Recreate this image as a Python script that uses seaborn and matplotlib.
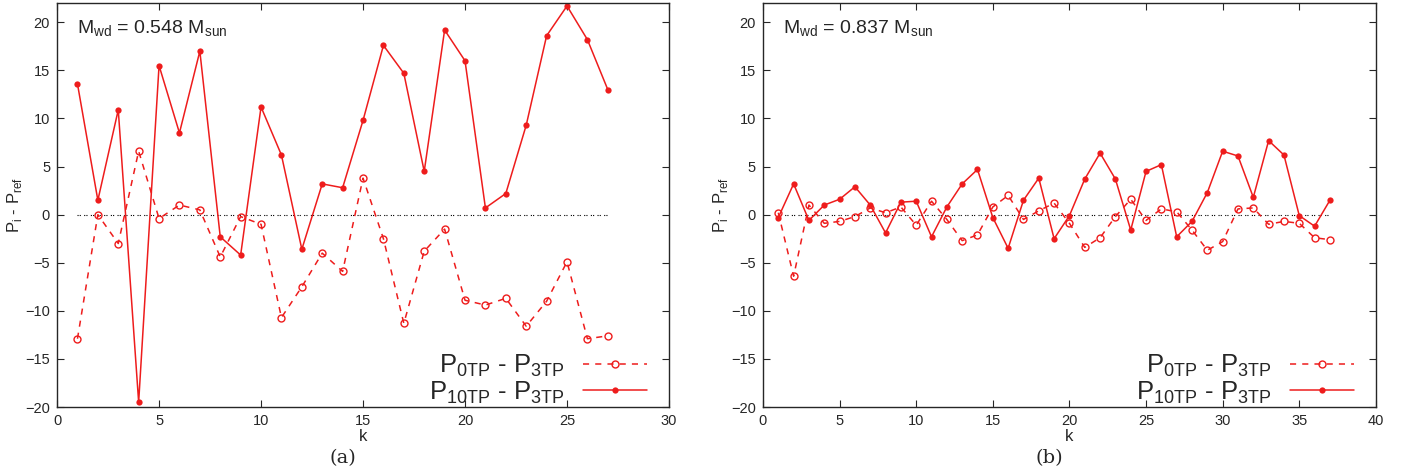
import numpy as np
import pandas as pd
import matplotlib
matplotlib.use("Agg")
import matplotlib.pyplot as plt
import seaborn as sns

# panel (a): M_wd = 0.548
k_a = list(range(1, 28))
p0_a = [-12.9, 0.0, -3.0, 6.6, -0.4, 1.0, 0.5, -4.4, -0.2, -1.0, -10.7, -7.5, -4.0, -5.9,
        3.8, -2.5, -11.3, -3.8, -1.5, -8.9, -9.4, -8.7, -11.6, -9.0, -4.9, -12.9, -12.6]
p10_a = [13.6, 1.5, 10.9, -19.5, 15.5, 8.5, 17.0, -2.3, -4.2, 11.2, 6.2, -3.6, 3.2, 2.8,
         9.8, 17.6, 14.7, 4.5, 19.2, 16.0, 0.7, 2.2, 9.3, 18.6, 21.7, 18.2, 13.0]

# panel (b): M_wd = 0.837
k_b = list(range(1, 38))
p0_b = [0.2, -6.4, 1.0, -0.9, -0.7, -0.2, 0.7, 0.2, 0.8, -1.1, 1.4, -0.5, -2.7, -2.1,
        0.8, 2.0, -0.5, 0.4, 1.2, -0.9, -3.4, -2.4, -0.2, 1.6, -0.6, 0.6, 0.3, -1.6,
        -3.7, -2.8, 0.6, 0.7, -1.0, -0.7, -0.9, -2.4, -2.6]
p10_b = [-0.3, 3.2, -0.6, 1.0, 1.6, 2.9, 1.0, -1.9, 1.3, 1.4, -2.3, 0.8, 3.2, 4.7,
         -0.3, -3.5, 1.5, 3.8, -2.5, -0.1, 3.7, 6.4, 3.7, -1.6, 4.5, 5.2, -2.3, -0.7,
         2.3, 6.6, 6.1, 1.8, 7.7, 6.2, -0.1, -1.2, 1.5]

panels = [
    ("(a)", "0.548", k_a, p0_a, p10_a, 30),
    ("(b)", "0.837", k_b, p0_b, p10_b, 40),
]

sns.set_style("ticks")
plt.rcParams['font.family'] = ['Liberation Sans', 'DejaVu Sans']
plt.rcParams['mathtext.fontset'] = 'custom'
plt.rcParams['mathtext.rm'] = 'Liberation Sans'

red = "#ee1c1c"
fig = plt.figure(figsize=(14.09, 4.73), dpi=100)
positions = [[0.0405, 0.1395, 0.4343, 0.854], [0.5415, 0.1395, 0.435, 0.854]]

for (tag, mass, k, p0, p10, xmax), pos in zip(panels, positions):
    ax = fig.add_axes(pos)
    df = pd.DataFrame({"k": k, "p0": p0, "p10": p10})
    ax.plot([k[0], k[-1]], [0, 0], color="black", lw=0.8, ls=(0, (1, 1, 1, 3)))
    sns.lineplot(data=df, x="k", y="p0", ax=ax, color=red, lw=1.1,
                 linestyle=(0, (4, 4)), marker="o", markersize=5,
                 markerfacecolor="none", markeredgecolor=red, markeredgewidth=1.0,
                 label=r"P$_\mathregular{0TP}$ - P$_\mathregular{3TP}$")
    sns.lineplot(data=df, x="k", y="p10", ax=ax, color=red, lw=1.1,
                 marker="o", markersize=4.5, markeredgewidth=0,
                 label=r"P$_\mathregular{10TP}$ - P$_\mathregular{3TP}$")
    ax.set_xlim(0, xmax)
    ax.set_ylim(-20, 22)
    ax.set_xticks(np.arange(0, xmax + 1, 5))
    ax.set_yticks(np.arange(-20, 21, 5))
    ax.tick_params(direction="in", top=True, right=True, length=5, width=0.8,
                   labelsize=10.5, pad=5)
    for s in ax.spines.values():
        s.set_linewidth(1.0)
    ax.set_xlabel("k", fontsize=12, labelpad=1)
    ax.set_ylabel(r"P$_\mathregular{i}$ - P$_\mathregular{ref}$", fontsize=12, labelpad=1)
    ax.text(0.033, 0.962, r"M$_\mathregular{wd}$ = " + mass + r" M$_\mathregular{sun}$",
            transform=ax.transAxes, fontsize=14, va="top", ha="left")
    ax.text(0.467, -0.105, tag, transform=ax.transAxes, fontsize=14, ha="center", va="top",
            family="DejaVu Serif")
    ax.legend(loc="lower right", bbox_to_anchor=(0.981, -0.022), frameon=False,
              markerfirst=False, fontsize=18.5, handlelength=2.5, handletextpad=0.7,
              labelspacing=0.0, borderaxespad=0)

fig.savefig("out.png", dpi=100)
